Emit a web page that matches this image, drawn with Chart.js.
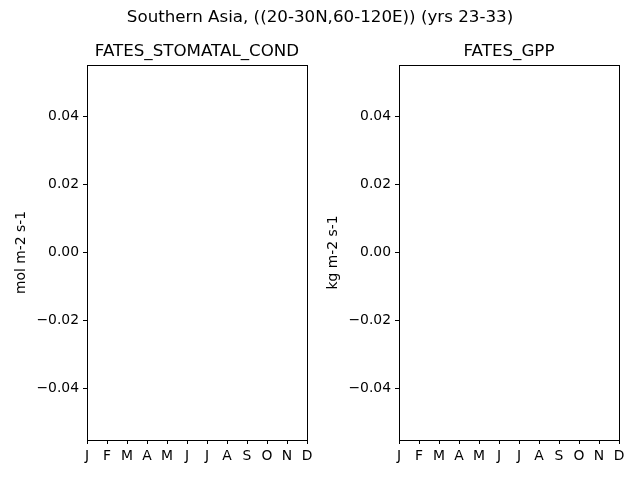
<!DOCTYPE html>
<html>
<head>
<meta charset="utf-8">
<script src="https://cdn.jsdelivr.net/npm/chart.js@4/dist/chart.umd.min.js"></script>
<style>
  body { margin: 0; background: #fff; }
  #wrap { position: relative; width: 640px; height: 480px; overflow: hidden; }
  #suptitle {
    position: absolute; left: 0; top: 6px; width: 640px; height: 20px;
    line-height: 20px; text-align: center; z-index: 2;
    font-family: "DejaVu Sans", sans-serif; font-size: 16.7px; color: #000;
  }
  .panel { position: absolute; top: 0; width: 320px; height: 480px; }
</style>
</head>
<body>
<div id="wrap">
  <div id="suptitle">Southern Asia, ((20-30N,60-120E)) (yrs 23-33)</div>
  <div class="panel" style="left:0px"><canvas id="chart1"></canvas></div>
  <div class="panel" style="left:312px"><canvas id="chart2"></canvas></div>
</div>
<script>
// month axis
var months = ['J', 'F', 'M', 'A', 'M', 'J', 'J', 'A', 'S', 'O', 'N', 'D'];
var monthNumbers = [1, 2, 3, 4, 5, 6, 7, 8, 9, 10, 11, 12];
var yTicks = [-0.04, -0.02, 0.00, 0.02, 0.04];

// series (no values plotted in the reference)
var stomatalCond = [];
var gpp = [];

var font = 'DejaVu Sans';

// draws the full box around the plot area
var boxPlugin = {
  id: 'box',
  afterDraw: function (chart) {
    var a = chart.chartArea;
    var c = chart.ctx;
    c.save();
    c.strokeStyle = '#000';
    c.lineWidth = 1;
    c.strokeRect(Math.round(a.left) + 0.5, Math.round(a.top) + 0.5,
      Math.round(a.right - a.left), Math.round(a.bottom - a.top));
    c.restore();
  }
};

function makeChart(id, title, unit, values) {
  return new Chart(document.getElementById(id), {
    type: 'line',
    data: {
      datasets: [{
        label: title,
        data: values.map(function (v, i) { return { x: monthNumbers[i], y: v }; }),
        borderColor: '#1f77b4',
        pointRadius: 0
      }]
    },
    options: {
      responsive: true,
      maintainAspectRatio: false,
      animation: false,
      devicePixelRatio: 1,
      layout: { padding: { left: 0, right: 13, top: 0, bottom: 0 } },
      plugins: {
        legend: { display: false },
        tooltip: { enabled: false },
        title: {
          display: true,
          fullSize: false,
          text: title,
          color: '#000',
          font: { family: font, size: 16.7, weight: 'normal', lineHeight: 1.2 },
          padding: { top: 42, bottom: 3 }
        }
      },
      scales: {
        x: {
          type: 'linear',
          min: 1,
          max: 12,
          afterBuildTicks: function (s) {
            s.ticks = monthNumbers.map(function (v) { return { value: v }; });
          },
          afterFit: function (s) { s.height = 40; },
          border: { display: false },
          grid: { display: true, drawOnChartArea: false, drawTicks: true, tickLength: 4, color: '#000' },
          ticks: {
            color: '#000',
            padding: 4,
            maxRotation: 0,
            autoSkip: false,
            font: { family: font, size: 13.9 },
            callback: function (v) { return months[v - 1]; }
          }
        },
        y: {
          type: 'linear',
          min: -0.055,
          max: 0.055,
          afterBuildTicks: function (s) {
            s.ticks = yTicks.map(function (v) { return { value: v }; });
          },
          afterFit: function (s) { s.width = 87; },
          border: { display: false },
          grid: { display: true, drawOnChartArea: false, drawTicks: true, tickLength: 4, color: '#000' },
          ticks: {
            color: '#000',
            padding: 4,
            font: { family: font, size: 13.9 },
            callback: function (v) {
              var s = v.toFixed(2);
              return s.replace('-', '\u2212');
            }
          },
          title: {
            display: true,
            text: unit,
            color: '#000',
            font: { family: font, size: 13.9, lineHeight: 1.2 },
            padding: { top: 13, bottom: 0 }
          }
        }
      }
    },
    plugins: [boxPlugin]
  });
}

makeChart('chart1', 'FATES_STOMATAL_COND', 'mol m-2 s-1', stomatalCond);
makeChart('chart2', 'FATES_GPP', 'kg m-2 s-1', gpp);
</script>
</body>
</html>
